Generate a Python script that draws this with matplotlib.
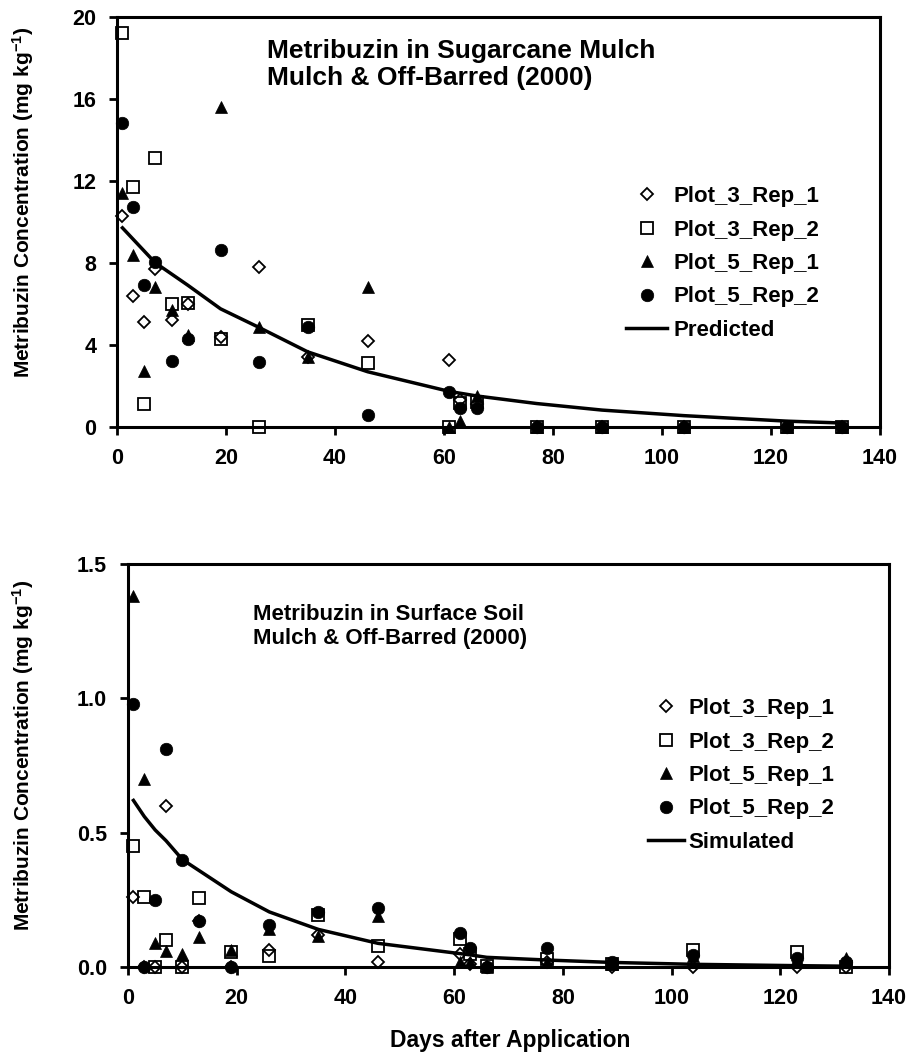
"""
Metribuzin dissipation in sugarcane mulch and surface soil (2000)
"""
import numpy as np
import matplotlib
matplotlib.use("Agg")
import matplotlib.pyplot as plt

plt.rcParams["font.family"] = ["Liberation Sans", "DejaVu Sans"]
plt.rcParams["font.weight"] = "bold"
plt.rcParams["mathtext.fontset"] = "custom"
plt.rcParams["mathtext.rm"] = "Liberation Sans:bold"
plt.rcParams["mathtext.default"] = "rm"

# ── Data: mulch (top panel) ────────────────────────────────────────────────────
days_top = [1, 3, 5, 7, 10, 13, 19, 26, 35, 46, 61, 63, 66, 77, 89, 104, 123, 133]
mulch_p3r1 = [10.3, 6.4, 5.1, 7.7, 5.2, 6.0, 4.4, 7.8, 3.4, 4.2, 3.25, 1.3, 1.1, 0, 0, 0, 0, 0]
mulch_p3r2 = [19.2, 11.7, 1.1, 13.1, 6.0, 6.05, 4.3, 0.0, 4.95, 3.1, 0.0, 1.15, 1.2, 0, 0, 0, 0, 0]
mulch_p5r1 = [11.4, 8.4, 2.7, 6.8, 5.7, 4.45, 15.6, 4.85, 3.4, 6.8, 0.0, 0.3, 1.5, 0, 0, 0, 0, 0]
mulch_p5r2 = [14.8, 10.7, 6.9, 8.05, 3.2, 4.3, 8.6, 3.15, 4.85, 0.55, 1.7, 0.9, 0.9, 0, 0, 0, 0, 0]

pred_days = [1, 7, 13, 19, 26, 35, 46, 61, 66, 77, 89, 104, 123, 133]
pred_mulch = [9.7, 8.0, 6.9, 5.75, 4.85, 3.65, 2.68, 1.72, 1.5, 1.13, 0.81, 0.54, 0.27, 0.18]

# ── Data: surface soil (bottom panel) ──────────────────────────────────────────
days_bot = [1, 3, 5, 7, 10, 13, 19, 26, 35, 46, 61, 63, 66, 77, 89, 104, 123, 132]
soil_p3r1 = [0.26, 0.0, 0.0, 0.60, 0.0, 0.17, 0.0, 0.065, 0.12, 0.02, 0.05, 0.01, 0.0, 0.02, 0.0, 0.0, 0.0, 0.0]
soil_p3r2 = [0.45, 0.26, 0.0, 0.10, 0.0, 0.255, 0.055, 0.04, 0.195, 0.08, 0.105, 0.05, 0.005, 0.03, 0.01, 0.063, 0.055, 0.0]
soil_p5r1 = [1.38, 0.70, 0.09, 0.06, 0.05, 0.11, 0.065, 0.14, 0.115, 0.19, 0.02, 0.02, 0.0, 0.02, 0.01, 0.04, 0.03, 0.035]
soil_p5r2 = [0.98, 0.0, 0.25, 0.81, 0.40, 0.17, 0.0, 0.155, 0.205, 0.22, 0.125, 0.07, 0.0, 0.07, 0.02, 0.045, 0.035, 0.02]

sim_days = [1, 3, 5, 7, 10, 13, 19, 26, 35, 46, 61, 63, 66, 77, 89, 104, 123, 132]
sim_soil = [0.62, 0.56, 0.51, 0.47, 0.40, 0.36, 0.28, 0.205, 0.14, 0.088, 0.05, 0.045,
            0.036, 0.026, 0.017, 0.01, 0.005, 0.003]

SERIES = ["Plot_3_Rep_1", "Plot_3_Rep_2", "Plot_5_Rep_1", "Plot_5_Rep_2"]
STYLE = {
    "Plot_3_Rep_1": dict(marker="D", ms=6.5, mfc="none", mec="black", mew=1.3),
    "Plot_3_Rep_2": dict(marker="s", ms=8.5, mfc="none", mec="black", mew=1.3),
    "Plot_5_Rep_1": dict(marker="^", ms=9, mfc="black", mec="black", mew=0.5),
    "Plot_5_Rep_2": dict(marker="o", ms=9, mfc="black", mec="black", mew=0.5),
}

W, H = 910, 1059
fig = plt.figure(figsize=(W / 100, H / 100), dpi=100, facecolor="white")


def style_axes(ax):
    for sp in ax.spines.values():
        sp.set_linewidth(2.2)
    ax.tick_params(direction="out", length=6, width=2, labelsize=15.5, pad=9)
    ax.set_xlim(0, 140)
    ax.set_xticks(np.arange(0, 141, 20))


def panel(ax, days, series_vals, line_days, line_vals, line_label):
    for name, vals in zip(SERIES, series_vals):
        ax.plot(days, vals, linestyle="none", label=name, clip_on=False,
                zorder=3, **STYLE[name])
    ax.plot(line_days, line_vals, color="black", linewidth=2.5,
            label=line_label, zorder=2)


# ── Top panel ─────────────────────────────────────────────────────────────────
ax1 = fig.add_axes([117 / W, 1 - 426.7 / H, 763 / W, 410 / H])
style_axes(ax1)
panel(ax1, days_top, [mulch_p3r1, mulch_p3r2, mulch_p5r1, mulch_p5r2],
      pred_days, pred_mulch, "Predicted")
ax1.set_ylim(0, 20)
ax1.set_yticks(np.arange(0, 21, 4))
ax1.legend(loc="center left", bbox_to_anchor=(626 / W, 1 - 263.5 / H),
           bbox_transform=fig.transFigure, frameon=False, fontsize=16,
           borderpad=0, borderaxespad=0, handlelength=1.85, handletextpad=0.27,
           labelspacing=0.56, numpoints=1)
fig.text(267 / W, 1 - 58 / H, "Metribuzin in Sugarcane Mulch",
         fontsize=19, fontweight="bold", va="baseline", ha="left")
fig.text(267 / W, 1 - 85 / H, "Mulch & Off-Barred (2000)",
         fontsize=19, fontweight="bold", va="baseline", ha="left")
fig.text(23 / W, 1 - 202 / H, r"Metribuzin Concentration (mg kg$^{-1}$)",
         rotation=90, fontsize=15, fontweight="bold", va="center", ha="center")

# ── Bottom panel ──────────────────────────────────────────────────────────────
ax2 = fig.add_axes([128 / W, 1 - 967 / H, 761 / W, 403 / H])
style_axes(ax2)
panel(ax2, days_bot, [soil_p3r1, soil_p3r2, soil_p5r1, soil_p5r2],
      sim_days, sim_soil, "Simulated")
ax2.set_ylim(0, 1.5)
ax2.set_yticks([0.0, 0.5, 1.0, 1.5])
ax2.set_yticklabels(["0.0", "0.5", "1.0", "1.5"])
ax2.legend(loc="center left", bbox_to_anchor=(648 / W, 1 - 775.5 / H),
           bbox_transform=fig.transFigure, frameon=False, fontsize=16,
           borderpad=0, borderaxespad=0, handlelength=1.6, handletextpad=0.22,
           labelspacing=0.56, numpoints=1)
fig.text(253 / W, 1 - 620 / H, "Metribuzin in Surface Soil",
         fontsize=16, fontweight="bold", va="baseline", ha="left")
fig.text(253 / W, 1 - 644 / H, "Mulch & Off-Barred (2000)",
         fontsize=16, fontweight="bold", va="baseline", ha="left")
fig.text(23 / W, 1 - 755 / H, r"Metribuzin Concentration (mg kg$^{-1}$)",
         rotation=90, fontsize=15, fontweight="bold", va="center", ha="center")
fig.text(510 / W, 1 - 1047 / H, "Days after Application",
         fontsize=16.5, fontweight="bold", va="baseline", ha="center")

fig.savefig("out.png", dpi=100, facecolor="white")
print("saved out.png")
